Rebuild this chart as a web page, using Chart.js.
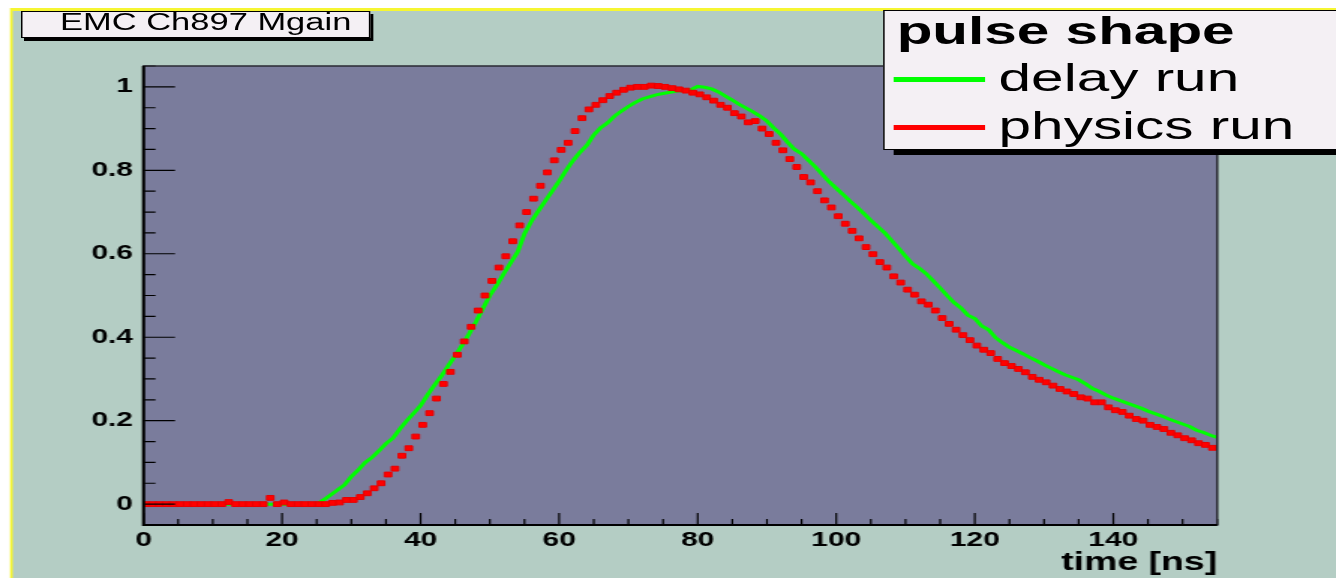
<!DOCTYPE html>
<html>
<head>
<meta charset="utf-8">
<script src="https://cdn.jsdelivr.net/npm/chart.js@4.4.1/dist/chart.umd.min.js"></script>
<style>
  html, body { margin: 0; padding: 0; background: #fff; width: 1336px; height: 578px; overflow: hidden; }
  /* the reference is a ROOT canvas stretched sideways, so draw narrow and stretch */
  #wrap { position: absolute; left: 0; top: 0; width: 891px; height: 578px; transform: scaleX(1.4994); transform-origin: 0 0; }
  #c { position: absolute; left: 0; top: 0; }
  .box { position: absolute; background: #f4f0f4; border: 1px solid #000; color: #000;
         font-family: "Liberation Sans", Arial, sans-serif; box-sizing: border-box; }
  #title { left: 14px; top: 11px; width: 233px; height: 27px; box-shadow: 2px 3px 0 #000;
           font-size: 23px; line-height: 20px; padding-left: 25px; white-space: nowrap; }
  #legend { left: 589px; top: 10px; width: 330px; height: 140px; box-shadow: 7px 5px 0 #000; }
  #legend .t { position: absolute; left: 8px; top: 1px; font-size: 39px; font-weight: bold; line-height: 38px; white-space: nowrap; }
  #legend .row { position: absolute; left: 6px; height: 44px; width: 320px; }
  #legend .line { position: absolute; left: 0; width: 61px; height: 5px; }
  #legend .lab { position: absolute; left: 70px; top: 0; font-size: 39px; line-height: 39px; white-space: nowrap; }
</style>
</head>
<body>
<div id="wrap">
  <canvas id="c" width="891" height="578"></canvas>
  <div id="title" class="box"></div>
  <div id="legend" class="box"></div>
</div>
<script>
const histTitle = 'EMC Ch897 Mgain';
const legendTitle = 'pulse shape';
const seriesNames = ['delay run', 'physics run'];
const seriesColors = ['#00ff00', '#ff0000'];
const xTitle = 'time [ns]';
const xTicks = [0, 20, 40, 60, 80, 100, 120, 140];
const yTicks = [0, 0.2, 0.4, 0.6, 0.8, 1];

// delay run, sampled every ns
const delayT = [
  0,1,2,3,4,5,6,7,8,9,10,11,12,13,14,15,16,17,18,19,
  20,21,22,23,24,25,26,27,28,29,30,31,32,33,34,35,36,37,38,39,
  40,41,42,43,44,45,46,47,48,49,50,51,52,53,54,55,56,57,58,59,
  60,61,62,63,64,65,66,67,68,69,70,71,72,73,74,75,76,77,78,79,
  80,81,82,83,84,85,86,87,88,89,90,91,92,93,94,95,96,97,98,99,
  100,101,102,103,104,105,106,107,108,109,110,111,112,113,114,115,116,117,118,119,
  120,121,122,123,124,125,126,127,128,129,130,131,132,133,134,135,136,137,138,139,
  140,141,142,143,144,145,146,147,148,149,150,151,152,153,154,155
];
const delayRun = [
  0,0,0,0,0,0,0,0,0,0,
  0,0,0,0,0,0,0,0,0,0,
  0,0,0,0,0,0,0.01,0.022,0.034,0.046,
  0.066,0.082,0.1,0.112,0.128,0.145,0.158,0.18,0.2,0.218,
  0.236,0.262,0.285,0.307,0.332,0.356,0.381,0.408,0.437,0.469,
  0.5,0.525,0.552,0.578,0.604,0.648,0.678,0.703,0.727,0.75,
  0.774,0.8,0.823,0.843,0.86,0.885,0.902,0.914,0.93,0.942,
  0.953,0.963,0.971,0.976,0.981,0.984,0.987,0.99,0.991,0.993,
  1.001,0.999,0.995,0.988,0.978,0.968,0.958,0.949,0.94,0.93,
  0.918,0.901,0.886,0.867,0.85,0.84,0.824,0.808,0.79,0.772,
  0.757,0.742,0.726,0.712,0.696,0.68,0.665,0.65,0.632,0.613,
  0.594,0.576,0.565,0.552,0.535,0.518,0.5,0.483,0.47,0.453,
  0.445,0.427,0.418,0.399,0.387,0.376,0.368,0.36,0.351,0.343,
  0.334,0.326,0.318,0.31,0.304,0.298,0.288,0.277,0.27,0.261,
  0.254,0.248,0.242,0.236,0.23,0.223,0.217,0.211,0.204,0.198,
  0.192,0.186,0.177,0.172,0.165,0.16
];

// physics run markers
const physT = [
  0.3,1.3,2.3,3.3,4.3,5.3,6.3,7.3,8.3,9.3,10.3,11.3,12.3,13.3,14.3,15.3,16.3,17.3,18.3,19.3,
  20.3,21.3,22.3,23.3,24.3,25.3,26.3,27.3,28.3,29.3,30.3,31.3,32.3,33.3,34.3,35.3,36.3,37.3,38.3,39.3,
  40.3,41.3,42.3,43.3,44.3,45.3,46.3,47.3,48.3,49.3,50.3,51.3,52.3,53.3,54.3,55.3,56.3,57.3,58.3,59.3,
  60.3,61.3,62.3,63.3,64.3,65.3,66.3,67.3,68.3,69.3,70.3,71.3,72.3,73.3,74.3,75.3,76.3,77.3,78.3,79.3,
  80.3,81.3,82.3,83.3,84.3,85.3,86.3,87.3,88.3,89.3,90.3,91.3,92.3,93.3,94.3,95.3,96.3,97.3,98.3,99.3,
  100.3,101.3,102.3,103.3,104.3,105.3,106.3,107.3,108.3,109.3,110.3,111.3,112.3,113.3,114.3,115.3,116.3,117.3,118.3,119.3,
  120.3,121.3,122.3,123.3,124.3,125.3,126.3,127.3,128.3,129.3,130.3,131.3,132.3,133.3,134.3,135.3,136.3,137.3,138.3,139.3,
  140.3,141.3,142.3,143.3,144.3,145.3,146.3,147.3,148.3,149.3,150.3,151.3,152.3,153.3,154.3
];
const physicsRun = [
  0,0,0,0,0,0,0,0,0,0,
  0,0,0.005,0,0,0,0,0,0.015,0,
  0.004,0,0,0,0,0,0,0.003,0.004,0.01,
  0.01,0.017,0.026,0.038,0.05,0.071,0.085,0.116,0.134,0.162,
  0.19,0.218,0.253,0.288,0.317,0.358,0.39,0.425,0.464,0.5,
  0.535,0.567,0.594,0.63,0.668,0.7,0.732,0.763,0.795,0.824,
  0.849,0.866,0.894,0.925,0.946,0.957,0.968,0.978,0.986,0.993,
  0.998,1.0,1.0,1.003,1.002,1.0,0.997,0.994,0.991,0.986,
  0.982,0.975,0.967,0.957,0.95,0.937,0.929,0.915,0.918,0.9,
  0.887,0.866,0.848,0.827,0.808,0.784,0.771,0.75,0.728,0.711,
  0.69,0.672,0.655,0.637,0.616,0.599,0.58,0.567,0.546,0.531,
  0.514,0.502,0.486,0.478,0.464,0.446,0.432,0.418,0.405,0.393,
  0.38,0.37,0.362,0.348,0.338,0.331,0.324,0.316,0.305,0.298,
  0.292,0.284,0.276,0.27,0.264,0.256,0.253,0.244,0.244,0.232,
  0.225,0.221,0.212,0.204,0.2,0.19,0.185,0.18,0.171,0.165,
  0.158,0.153,0.146,0.142,0.135
];

const font = '"Liberation Sans", Arial, sans-serif';

// pad, frame and ROOT style inward ticks
const rootFrame = {
  id: 'rootFrame',
  beforeDraw(chart) {
    const { ctx, chartArea: a, width, height } = chart;
    ctx.save();
    ctx.fillStyle = '#ffffff';
    ctx.fillRect(0, 0, width, height);
    ctx.fillStyle = '#f6f632';
    ctx.fillRect(6.7, 8, width, height);
    ctx.fillStyle = '#b4cdc4';
    ctx.fillRect(8.5, 11, width, height);
    ctx.fillStyle = '#7a7c9c';
    ctx.fillRect(a.left, a.top, a.right - a.left, a.bottom - a.top);
    ctx.restore();
  },
  afterDatasetsDraw(chart) {
    const { ctx, chartArea: a } = chart;
    const xs = chart.scales.x, ys = chart.scales.y;
    ctx.save();
    ctx.strokeStyle = '#000';
    ctx.lineWidth = 1.2;
    ctx.beginPath();
    for (let v = 0; v <= xs.max + 1e-6; v += 5) {
      const px = xs.getPixelForValue(v);
      const len = xTicks.includes(v) ? 12 : 6;
      ctx.moveTo(px, a.bottom);
      ctx.lineTo(px, a.bottom - len);
    }
    for (let i = 0; ; i++) {
      const v = ys.min + i * 0.05;
      if (v > ys.max + 1e-6) break;
      const py = ys.getPixelForValue(v);
      const major = Math.abs(v / 0.2 - Math.round(v / 0.2)) < 1e-6;
      ctx.moveTo(a.left, py);
      ctx.lineTo(a.left + (major ? 21 : 8), py);
    }
    ctx.stroke();
    ctx.strokeStyle = '#2a2a33';
    ctx.lineWidth = 1.5;
    ctx.strokeRect(a.left, a.top, a.right - a.left, a.bottom - a.top);
    ctx.strokeStyle = '#000';
    ctx.lineWidth = 2;
    ctx.beginPath();
    ctx.moveTo(a.left, a.top);
    ctx.lineTo(a.left, a.bottom);
    ctx.lineTo(a.right, a.bottom);
    ctx.stroke();
    ctx.restore();
  }
};

new Chart(document.getElementById('c'), {
  type: 'scatter',
  data: {
    datasets: [
      {
        label: seriesNames[0],
        data: delayT.map((t, i) => ({ x: t, y: delayRun[i] })),
        showLine: true,
        borderColor: seriesColors[0],
        borderWidth: 3,
        pointRadius: 0,
        tension: 0,
        order: 2
      },
      {
        label: seriesNames[1],
        data: physT.map((t, i) => ({ x: t, y: physicsRun[i] })),
        showLine: false,
        pointStyle: 'rect',
        pointRadius: 3.4,
        borderWidth: 1,
        backgroundColor: seriesColors[1],
        borderColor: '#e80000',
        order: 1
      }
    ]
  },
  options: {
    responsive: false,
    animation: false,
    devicePixelRatio: 1,
    layout: { padding: { left: 0, top: 66, right: 79.2, bottom: 0 } },
    plugins: { legend: { display: false }, title: { display: false }, tooltip: { enabled: false } },
    scales: {
      x: {
        type: 'linear',
        min: 0,
        max: 155,
        afterBuildTicks: s => { s.ticks = xTicks.map(v => ({ value: v })); },
        afterFit: s => { s.height = 53; },
        grid: { display: false, drawTicks: false },
        border: { display: false },
        ticks: { color: '#000', padding: 3, font: { family: font, size: 20, weight: 'bold' }, callback: v => String(v), maxRotation: 0 },
        title: { display: true, text: xTitle, align: 'end', color: '#000', padding: { top: 0, bottom: 0 },
                 font: { family: font, size: 25, weight: 'bold' } }
      },
      y: {
        type: 'linear',
        min: -0.05,
        max: 1.05,
        afterBuildTicks: s => { s.ticks = yTicks.map(v => ({ value: v })); },
        afterFit: s => { s.width = 95.7; },
        grid: { display: false, drawTicks: false },
        border: { display: false },
        ticks: { color: '#000', padding: 7, font: { family: font, size: 20, weight: 'bold' }, callback: v => String(v) }
      }
    }
  },
  plugins: [rootFrame]
});

document.getElementById('title').textContent = histTitle;
const legendEl = document.getElementById('legend');
const head = document.createElement('div');
head.className = 't';
head.textContent = legendTitle;
legendEl.appendChild(head);
seriesNames.forEach((name, i) => {
  const row = document.createElement('div');
  row.className = 'row';
  row.style.top = (47 + i * 48) + 'px';
  const ln = document.createElement('div');
  ln.className = 'line';
  ln.style.background = seriesColors[i];
  ln.style.top = '19px';
  const lab = document.createElement('div');
  lab.className = 'lab';
  lab.textContent = name;
  row.appendChild(ln);
  row.appendChild(lab);
  legendEl.appendChild(row);
});
</script>
</body>
</html>
